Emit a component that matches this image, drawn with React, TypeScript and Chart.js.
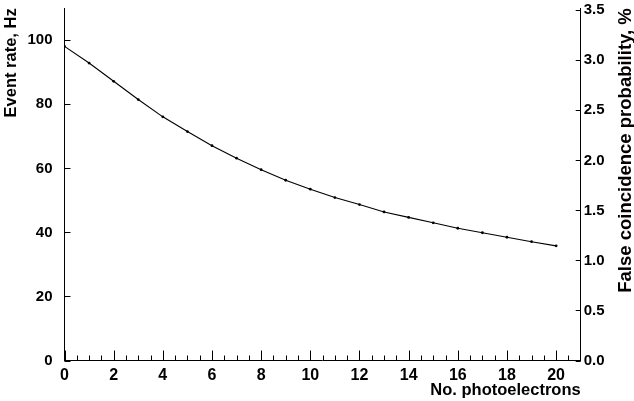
import React, { useEffect, useRef } from "react";
import { Chart, registerables } from "chart.js";

Chart.register(...registerables);

// ---- data ----
const photoelectrons = [0, 1, 2, 3, 4, 5, 6, 7, 8, 9, 10, 11, 12, 13, 14, 15, 16, 17, 18, 19, 20];
const eventRate = [
  98.1, 92.9, 87.2, 81.5, 76.1, 71.5, 67.1, 63.2, 59.6, 56.3, 53.5,
  50.9, 48.7, 46.4, 44.7, 43.0, 41.3, 39.9, 38.5, 37.1, 35.8,
];
const xMajorTicks = [0, 2, 4, 6, 8, 10, 12, 14, 16, 18, 20];
const xMinorTicks = [
  0.5, 1, 1.5, 2.5, 3, 3.5, 4.5, 5, 5.5, 6.5, 7, 7.5, 8.5, 9, 9.5, 10.5, 11, 11.5,
  12.5, 13, 13.5, 14.5, 15, 15.5, 16.5, 17, 17.5, 18.5, 19, 19.5, 20.5,
];
const leftTicks = [0, 20, 40, 60, 80, 100];
const rightTicks = [0, 0.5, 1.0, 1.5, 2.0, 2.5, 3.0, 3.5];

const X_MIN = 0;
const X_MAX = 21;
const LEFT_MAX = 110;
const RIGHT_MAX = 3.52;

const leftTitle = "Event rate, Hz";
const rightTitle = "False coincidence probability, %";
const xTitle = "No. photoelectrons";

const FONT = "'Liberation Sans', Arial, Helvetica, sans-serif";

Chart.defaults.font.family = FONT;
Chart.defaults.font.weight = "bold" as any;
Chart.defaults.color = "#000";

const innerTicksPlugin = {
  id: "innerTicks",
  afterDraw(chart: any) {
    const { ctx, chartArea, scales } = chart;
    ctx.save();
    ctx.strokeStyle = "#000";
    ctx.lineWidth = 1;
    ctx.beginPath();
    const bottom = chartArea.bottom;
    xMajorTicks.forEach((v) => {
      const px = Math.round(scales.x.getPixelForValue(v)) + 0.5;
      ctx.moveTo(px, bottom);
      ctx.lineTo(px, bottom - 10);
    });
    xMinorTicks.forEach((v) => {
      const px = Math.round(scales.x.getPixelForValue(v)) + 0.5;
      ctx.moveTo(px, bottom);
      ctx.lineTo(px, bottom - 5);
    });
    leftTicks.forEach((v) => {
      const py = Math.round(scales.y.getPixelForValue(v)) + 0.5;
      ctx.moveTo(chartArea.left, py);
      ctx.lineTo(chartArea.left + 6, py);
    });
    rightTicks.forEach((v) => {
      const py = Math.round(scales.y2.getPixelForValue(v)) + 0.5;
      ctx.moveTo(chartArea.right, py);
      ctx.lineTo(chartArea.right - 5, py);
    });
    ctx.stroke();

    // right title, reading bottom-to-top
    ctx.fillStyle = "#000";
    ctx.font = `bold 18.5px ${FONT}`;
    ctx.textAlign = "right";
    ctx.textBaseline = "middle";
    ctx.translate(626, chartArea.top);
    ctx.rotate(-Math.PI / 2);
    ctx.fillText(rightTitle, 0, 0);
    ctx.restore();
  },
};

const yTickFont = () => ({ family: FONT, weight: "bold", size: 15, lineHeight: 1.2 });

export default function App() {
  const canvasRef = useRef<HTMLCanvasElement | null>(null);

  useEffect(() => {
    if (!canvasRef.current) return;
    const chart = new Chart(canvasRef.current, {
      type: "line",
      data: {
        datasets: [
          {
            data: photoelectrons.map((x, i) => ({ x, y: eventRate[i] })),
            borderColor: "#000",
            backgroundColor: "#000",
            borderWidth: 1.1,
            pointRadius: 1.4,
            pointBorderWidth: 0,
            pointBackgroundColor: "#000",
            tension: 0,
            yAxisID: "y",
          },
        ],
      },
      options: {
        responsive: false,
        animation: false,
        devicePixelRatio: 1,
        layout: { padding: { top: 8.3, left: 0, right: 0, bottom: 0 } },
        plugins: { legend: { display: false }, tooltip: { enabled: false } },
        scales: {
          x: {
            type: "linear",
            min: X_MIN,
            max: X_MAX,
            grid: { display: false, drawTicks: false },
            border: { display: true, color: "#000", width: 1 },
            afterBuildTicks: (scale: any) => {
              scale.ticks = xMajorTicks.map((v) => ({ value: v }));
            },
            afterFit: (scale: any) => {
              scale.height = 40.5;
              scale.paddingLeft = 0;
              scale.paddingRight = 0;
            },
            ticks: {
              color: "#000",
              padding: 5,
              maxRotation: 0,
              font: { family: FONT, weight: "bold", size: 16 },
              callback: (v: any) => String(v),
            },
            title: {
              display: true,
              text: xTitle,
              align: "end",
              color: "#000",
              padding: { top: 0, bottom: 1 },
              font: { family: FONT, weight: "bold", size: 16.5 },
            },
          },
          y: {
            type: "linear",
            position: "left",
            min: 0,
            max: LEFT_MAX,
            grid: { display: false, drawTicks: false },
            border: { display: true, color: "#000", width: 1 },
            afterBuildTicks: (scale: any) => {
              scale.ticks = leftTicks.map((v) => ({ value: v }));
            },
            afterFit: (scale: any) => {
              scale.width = 64.5;
              scale.paddingTop = 0;
              scale.paddingBottom = 0;
            },
            ticks: {
              color: "#000",
              padding: 12,
              font: yTickFont,
              callback: (v: any) => String(v),
            },
            title: {
              display: true,
              text: leftTitle,
              align: "end",
              color: "#000",
              padding: { top: 2, bottom: 0 },
              font: { family: FONT, weight: "bold", size: 16.5 },
            },
          },
          y2: {
            type: "linear",
            position: "right",
            min: 0,
            max: RIGHT_MAX,
            grid: { display: false, drawTicks: false },
            border: { display: true, color: "#000", width: 1 },
            afterBuildTicks: (scale: any) => {
              scale.ticks = rightTicks.map((v) => ({ value: v }));
            },
            afterFit: (scale: any) => {
              scale.width = 53.3;
              scale.paddingTop = 0;
              scale.paddingBottom = 0;
            },
            ticks: {
              color: "#000",
              padding: 3,
              font: yTickFont,
              callback: (v: any) => Number(v).toFixed(1),
            },
          },
        },
      },
      plugins: [innerTicksPlugin],
    } as any);
    return () => chart.destroy();
  }, []);

  return (
    <div style={{ position: "absolute", left: 0, top: 0, width: 634, height: 401, background: "#fff" }}>
      <canvas ref={canvasRef} width={634} height={401} style={{ display: "block", width: 634, height: 401 }} />
    </div>
  );
}
